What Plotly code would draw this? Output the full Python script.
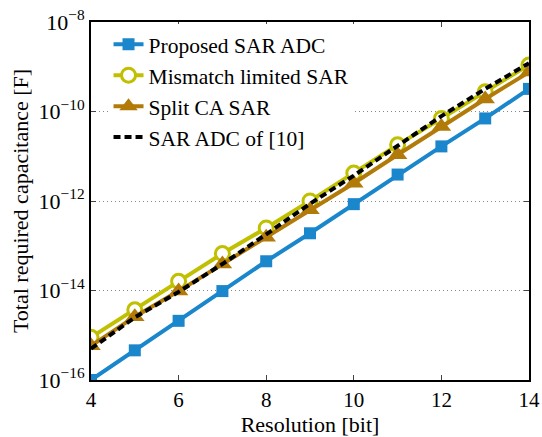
import plotly.graph_objects as go

resolution = [4, 5, 6, 7, 8, 9, 10, 11, 12, 13, 14]
proposed = [1.0e-16, 4.6e-16, 2.1e-15, 9.7e-15, 4.5e-14, 1.9e-13, 8.5e-13, 3.9e-12, 1.66e-11, 7.0e-11, 3.2e-10]
mismatch = [9.0e-16, 3.7e-15, 1.6e-14, 6.7e-14, 2.5e-13, 1.0e-12, 4.2e-12, 1.8e-11, 7.0e-11, 2.75e-10, 1.1e-9]
split_ca = [5.8e-16, 2.6e-15, 9.7e-15, 3.9e-14, 1.55e-13, 6.4e-13, 2.5e-12, 1.08e-11, 4.6e-11, 1.9e-10, 7.6e-10]
ref10 = [5.0e-16, 2.5e-15, 9.3e-15, 3.9e-14, 1.8e-13, 8.7e-13, 3.7e-12, 1.66e-11, 7.9e-11, 3.2e-10, 1.2e-9]

series_names = ["Proposed SAR ADC", "Mismatch limited SAR", "Split CA SAR", "SAR ADC of [10]"]
x_ticks = [4, 6, 8, 10, 12, 14]
y_tick_vals = [1e-16, 1e-14, 1e-12, 1e-10, 1e-8]
y_tick_text = ["10<sup>\u221216</sup>", "10<sup>\u221214</sup>", "10<sup>\u221212</sup>",
               "10<sup>\u221210</sup>", "10<sup>\u22128</sup>"]

BLUE = "#1a86cb"
YELLOW = "#c0c000"
BROWN = "#b27a08"
FONT = "Liberation Serif, Times New Roman, serif"

fig = go.Figure()
fig.add_trace(go.Scatter(
    x=resolution, y=proposed, name=series_names[0], mode="lines+markers",
    line=dict(color=BLUE, width=4),
    marker=dict(symbol="square", size=12, color=BLUE, line=dict(width=0)),
))
fig.add_trace(go.Scatter(
    x=resolution, y=mismatch, name=series_names[1], mode="lines+markers",
    line=dict(color=YELLOW, width=4),
    marker=dict(symbol="circle", size=14, color="white", line=dict(color=YELLOW, width=3)),
))
fig.add_trace(go.Scatter(
    x=resolution, y=split_ca, name=series_names[2], mode="lines+markers",
    line=dict(color=BROWN, width=4),
    marker=dict(symbol="triangle-up", size=17, color=BROWN, line=dict(width=0)),
))
fig.add_trace(go.Scatter(
    x=resolution, y=ref10, name=series_names[3], mode="lines",
    line=dict(color="black", width=4, dash="7px,4px"),
))

fig.update_layout(
    width=542, height=437,
    margin=dict(l=91, r=13, t=22, b=57, autoexpand=False),
    paper_bgcolor="white", plot_bgcolor="white",
    font=dict(family=FONT, size=22, color="black"),
    showlegend=True,
    legend=dict(x=0.04, y=0.995, xanchor="left", yanchor="top",
                bgcolor="white", borderwidth=0,
                font=dict(family=FONT, size=21.5, color="black"),
                itemwidth=30, tracegroupgap=0),
)
fig.update_xaxes(
    range=[4, 14], tickvals=x_ticks, ticks="inside", ticklen=5, tickwidth=1,
    showline=True, linecolor="black", linewidth=2, mirror="ticks",
    showgrid=False, zeroline=False,
    title=dict(text="Resolution [bit]", standoff=0, font=dict(family=FONT, size=22)),
    tickfont=dict(family=FONT, size=21),
)
fig.update_yaxes(
    type="log", range=[-16, -8], tickvals=y_tick_vals, ticktext=y_tick_text,
    ticks="inside", ticklen=5, tickwidth=1,
    showline=True, linecolor="black", linewidth=2, mirror="ticks",
    showgrid=True, gridcolor="#888888", gridwidth=1, griddash="1px,3px",
    zeroline=False,
    title=dict(text="Total required capacitance [F]", standoff=4, font=dict(family=FONT, size=22)),
    tickfont=dict(family=FONT, size=22),
)

fig.write_html("out.html", config={"displayModeBar": False},
               post_script="document.body.style.margin='0';")
